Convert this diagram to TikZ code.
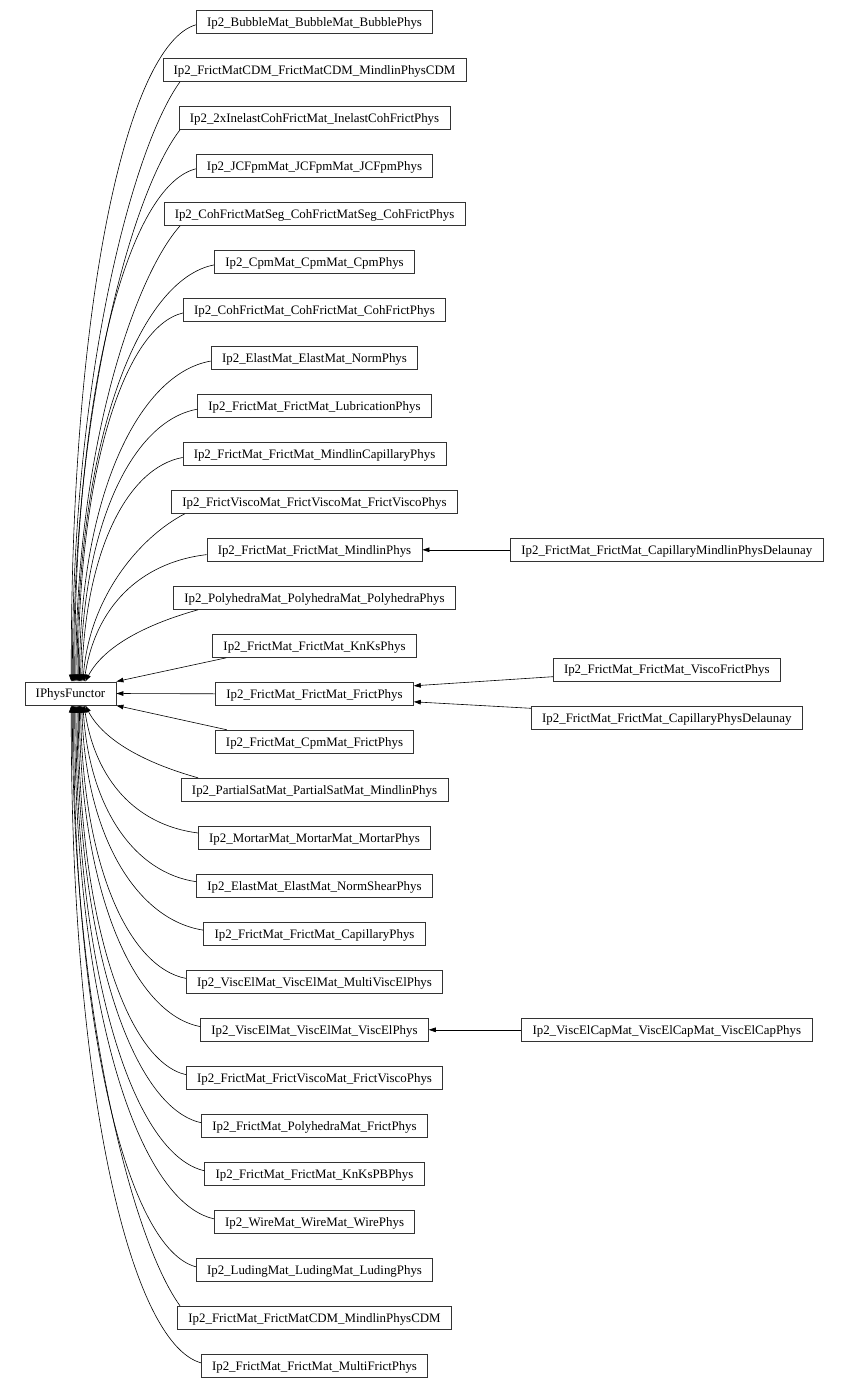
\documentclass[tikz,border=0pt]{standalone}
\usepackage{fontspec}
\setmainfont{Liberation Serif}
\usetikzlibrary{arrows.meta,calc}
\newcommand\fanedge[3]{% #1 node index, #2 rank distance, #3 side (1 above, -1 below)
  \path (n#1.west); \pgfgetlastxy{\wx}{\wy}%
  \pgfmathsetmacro\wxv{\wx}%
  \pgfmathsetmacro\xs{180+18*exp(-(#2-1)/1.5)}%
  \pgfmathtruncatemacro\isbot{\wxv<\xs}%
  \pgfmathsetmacro\ex{60.7-(#2-1)*14/12}%
  \ifnum#3=1 \coordinate (E) at ($(ip.north west)+(\ex,0)$);\else\coordinate (E) at ($(ip.south west)+(\ex,0)$);\fi
  \ifnum\isbot=1
    \pgfmathsetmacro\sh{\xs-\wxv}%
    \ifnum#3=1 \coordinate (S) at ($(n#1.south west)+(\sh,0)$);\else\coordinate (S) at ($(n#1.north west)+(\sh,0)$);\fi
  \else
    \pgfmathsetmacro\off{(#3)*(3+3*exp(-(#2-1)/2))}%
    \coordinate (S) at ($(n#1.west)+(0,\off)$);
  \fi
  \path (S); \pgfgetlastxy{\sx}{\sy}%
  \path (E); \pgfgetlastxy{\exx}{\eyy}%
  \pgfmathsetmacro\DX{\sx-\exx}%
  \pgfmathsetmacro\DY{abs(\eyy-\sy)}%
  \pgfmathsetmacro\cc{20*exp(-(#2-1)/2)-1}%
  \ifnum\isbot=1
    \pgfmathsetmacro\ax{-0.45*\DX}\pgfmathsetmacro\ay{(#3)*(0.1*\DY+7)}\pgfmathsetmacro\by{-(#3)*0.5*\DY}%
  \else
    \pgfmathsetmacro\ax{-0.55*\DX}\pgfmathsetmacro\ay{(#3)*(0.023*\DY+5)}\pgfmathsetmacro\by{-(#3)*0.58*\DY}%
  \fi
  \draw[inh] (S) .. controls +(\ax,\ay) and +(\cc,\by) .. (E);
}
\begin{document}
\begin{tikzpicture}[x=1pt,y=-1pt,
  cls/.style={draw=black!80, line width=0.7pt, minimum height=23.3pt, inner xsep=10.8pt, inner ysep=0pt, text height=8.54pt, text depth=0pt, font=\fontsize{12.9}{14}\selectfont, text=black},
  inh/.style={draw=black, line width=0.6pt, -{Triangle[length=7pt,width=4.6pt]}}]
\useasboundingbox (0,0) rectangle (846,1388);
\node[cls] (ip) at (70.5,693.5) {IPhysFunctor};
\foreach \i/\t in {
 1/Ip2\_BubbleMat\_BubbleMat\_BubblePhys,
 2/Ip2\_FrictMatCDM\_FrictMatCDM\_MindlinPhysCDM,
 3/Ip2\_2xInelastCohFrictMat\_InelastCohFrictPhys,
 4/Ip2\_JCFpmMat\_JCFpmMat\_JCFpmPhys,
 5/Ip2\_CohFrictMatSeg\_CohFrictMatSeg\_CohFrictPhys,
 6/Ip2\_CpmMat\_CpmMat\_CpmPhys,
 7/Ip2\_CohFrictMat\_CohFrictMat\_CohFrictPhys,
 8/Ip2\_ElastMat\_ElastMat\_NormPhys,
 9/Ip2\_FrictMat\_FrictMat\_LubricationPhys,
 10/Ip2\_FrictMat\_FrictMat\_MindlinCapillaryPhys,
 11/Ip2\_FrictViscoMat\_FrictViscoMat\_FrictViscoPhys,
 12/Ip2\_FrictMat\_FrictMat\_MindlinPhys,
 13/Ip2\_PolyhedraMat\_PolyhedraMat\_PolyhedraPhys,
 14/Ip2\_FrictMat\_FrictMat\_KnKsPhys,
 15/Ip2\_FrictMat\_FrictMat\_FrictPhys,
 16/Ip2\_FrictMat\_CpmMat\_FrictPhys,
 17/Ip2\_PartialSatMat\_PartialSatMat\_MindlinPhys,
 18/Ip2\_MortarMat\_MortarMat\_MortarPhys,
 19/Ip2\_ElastMat\_ElastMat\_NormShearPhys,
 20/Ip2\_FrictMat\_FrictMat\_CapillaryPhys,
 21/Ip2\_ViscElMat\_ViscElMat\_MultiViscElPhys,
 22/Ip2\_ViscElMat\_ViscElMat\_ViscElPhys,
 23/Ip2\_FrictMat\_FrictViscoMat\_FrictViscoPhys,
 24/Ip2\_FrictMat\_PolyhedraMat\_FrictPhys,
 25/Ip2\_FrictMat\_FrictMat\_KnKsPBPhys,
 26/Ip2\_WireMat\_WireMat\_WirePhys,
 27/Ip2\_LudingMat\_LudingMat\_LudingPhys,
 28/Ip2\_FrictMat\_FrictMatCDM\_MindlinPhysCDM,
 29/Ip2\_FrictMat\_FrictMat\_MultiFrictPhys}
{ \node[cls] (n\i) at (314.5,{21.8+48*(\i-1)}) {\t}; }
\node[cls] (r12) at (666.8,549.8) {Ip2\_FrictMat\_FrictMat\_CapillaryMindlinPhysDelaunay};
\node[cls] (r15a) at (666.8,669.5) {Ip2\_FrictMat\_FrictMat\_ViscoFrictPhys};
\node[cls] (r15b) at (666.8,718) {Ip2\_FrictMat\_FrictMat\_CapillaryPhysDelaunay};
\node[cls] (r22) at (666.8,1029.8) {Ip2\_ViscElCapMat\_ViscElCapMat\_ViscElCapPhys};
% curved edges
\foreach \k in {1,...,13} { \pgfmathtruncatemacro\dd{14-\k} \fanedge{\k}{\dd}{1} }
\foreach \k in {17,...,29} { \pgfmathtruncatemacro\dd{\k-16} \fanedge{\k}{\dd}{-1} }
% straight edges
\draw[inh] ($(n14.south west)+(14,0)$) -- (ip.north east);
\draw[inh] (n15.west) -- (ip.east);
\draw[inh] ($(n16.north west)+(12,0)$) -- (ip.south east);
\draw[inh] (r12) -- (n12);
\draw[inh] ($(r15a.west)+(0,7.2)$) -- ($(n15.east)+(0,-8)$);
\draw[inh] ($(r15b.west)+(0,-9.7)$) -- ($(n15.east)+(0,8)$);
\draw[inh] (r22) -- (n22);
\end{tikzpicture}
\end{document}
